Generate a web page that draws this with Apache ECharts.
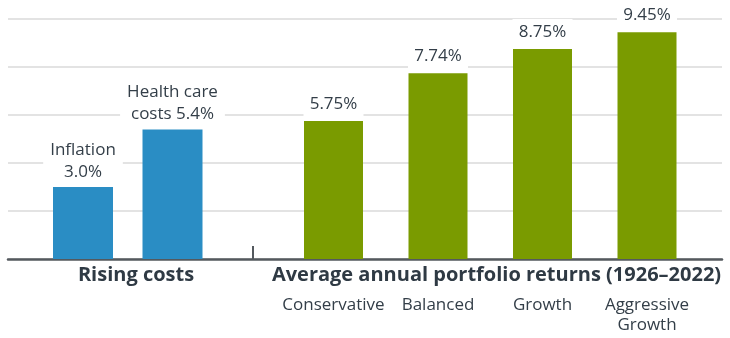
<!DOCTYPE html>
<html>
<head>
<meta charset="utf-8">
<script src="https://cdn.jsdelivr.net/npm/echarts@6/dist/echarts.min.js"></script>
<style>html,body{margin:0;padding:0;background:#fff}#c{width:730px;height:338px}</style>
</head>
<body>
<div id="c"></div>
<script>
// ---- data ----
var costCategories = ['Inflation', 'Health care\ncosts'];
var costValues = [3.0, 5.4];
var returnCategories = ['Conservative', 'Balanced', 'Growth', 'Aggressive\nGrowth'];
var returnValues = [5.75, 7.74, 8.75, 9.45];
var groupTitles = ['Rising costs', 'Average annual portfolio returns (1926\u20132022)'];
var yTicks = {min: 0, max: 10, interval: 2};

var FONT = '"Open Sans", "Noto Sans", sans-serif';
var TEXT = '#333e48';
var BLUE = '#2a8dc4';
var GREEN = '#7a9b00';
var AXIS = '#54595e';

var chart = echarts.init(document.getElementById('c'), null, {renderer: 'canvas'});

function hiddenY(i) {
  return {gridIndex: i, type: 'value', min: yTicks.min, max: yTicks.max, interval: yTicks.interval, show: false};
}

chart.setOption({
  animation: false,
  backgroundColor: '#fff',
  textStyle: {fontFamily: FONT},
  grid: [
    {left: 8, right: 8, top: 19, height: 240, containLabel: false},
    {left: 38.25, width: 179, top: 19, height: 240, containLabel: false},
    {left: 281.25, width: 418, top: 19, height: 240, containLabel: false}
  ],
  xAxis: [
    {gridIndex: 0, type: 'value', min: 0, max: 1,
     axisLine: {show: true, onZero: false, lineStyle: {color: AXIS, width: 2.5}},
     axisTick: {show: false}, axisLabel: {show: false}, splitLine: {show: false}},
    {gridIndex: 1, type: 'category', data: costCategories,
     axisLine: {show: false}, axisTick: {show: false}, axisLabel: {show: false}},
    {gridIndex: 2, type: 'category', data: returnCategories,
     axisLine: {show: false}, axisTick: {show: false},
     axisLabel: {show: true, interval: 0, hideOverlap: false, margin: 36, color: TEXT,
       fontFamily: FONT, fontSize: 17, lineHeight: 20}}
  ],
  yAxis: [
    {gridIndex: 0, type: 'value', min: yTicks.min, max: yTicks.max, interval: yTicks.interval,
     axisLine: {show: false}, axisTick: {show: false}, axisLabel: {show: false},
     splitLine: {show: true, lineStyle: {color: '#dadada', width: 1.5}}},
    hiddenY(1), hiddenY(2)
  ],
  series: [
    {type: 'bar', xAxisIndex: 1, yAxisIndex: 1, data: costValues, barWidth: 60,
     itemStyle: {color: BLUE},
     label: {show: true, position: 'top', distance: 4, color: TEXT, fontFamily: FONT, fontSize: 17,
       lineHeight: 22, backgroundColor: '#fff', padding: [0, 7], align: 'center',
       formatter: function (p) {
         return p.name + (p.dataIndex === 0 ? '\n' : ' ') + p.value.toFixed(1) + '%';
       }}},
    {type: 'bar', xAxisIndex: 2, yAxisIndex: 2, data: returnValues, barWidth: 59,
     itemStyle: {color: GREEN},
     label: {show: true, position: 'top', distance: 4, color: TEXT, fontFamily: FONT, fontSize: 17,
       lineHeight: 20, backgroundColor: '#fff', padding: [3, 0], width: 60, align: 'center',
       formatter: function (p) { return p.value.toFixed(2) + '%'; }}}
  ],
  graphic: [
    {type: 'line', shape: {x1: 253, y1: 246, x2: 253, y2: 259}, style: {stroke: AXIS, lineWidth: 2}, z: 10},
    {type: 'text', x: 136, y: 275, style: {text: groupTitles[0], fill: '#2f3a44',
      font: 'bold 20px ' + FONT, textAlign: 'center', textVerticalAlign: 'middle'}},
    {type: 'text', x: 496.5, y: 275, style: {text: groupTitles[1], fill: '#2f3a44',
      font: 'bold 20px ' + FONT, textAlign: 'center', textVerticalAlign: 'middle'}}
  ]
});
</script>
</body>
</html>
